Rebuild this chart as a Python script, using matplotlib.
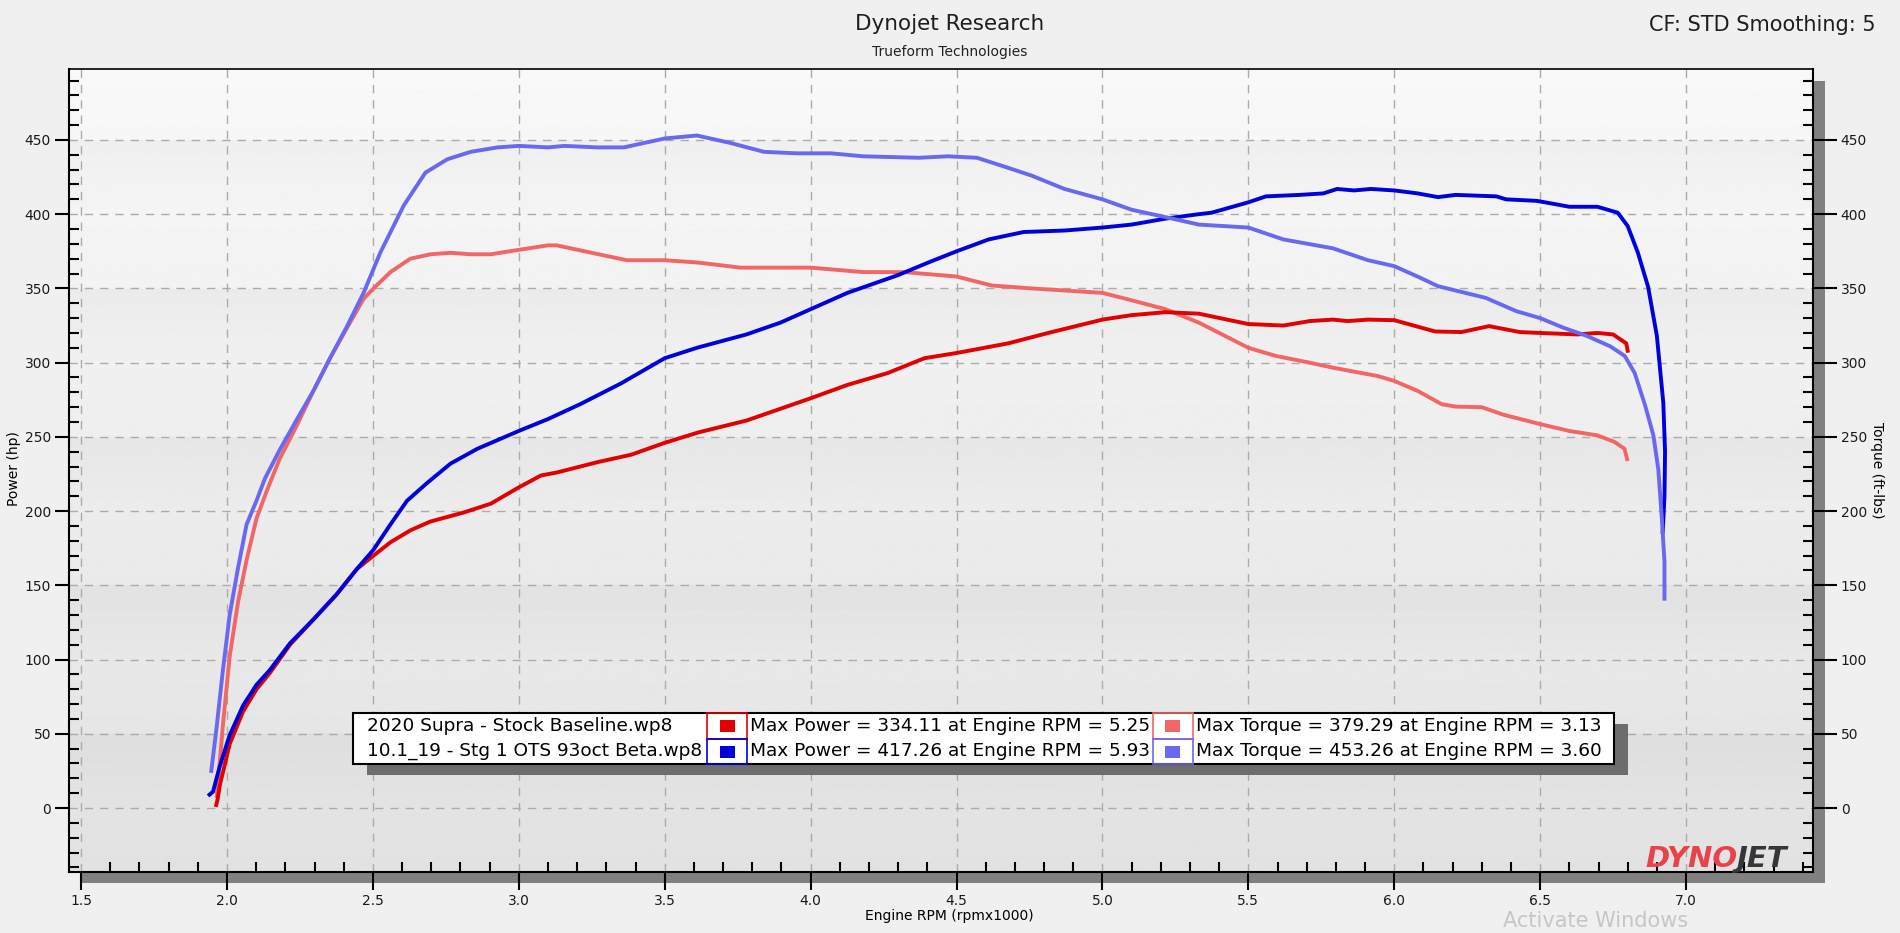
import matplotlib
matplotlib.use('Agg')
import matplotlib.pyplot as plt
from matplotlib.patches import Rectangle
from matplotlib.ticker import MultipleLocator, FormatStrFormatter
import numpy as np

# legend / summary values
run_names = ['2020 Supra - Stock Baseline.wp8', '10.1_19 - Stg 1 OTS 93oct Beta.wp8']
max_power = [334.11, 417.26]
max_power_rpm = [5.25, 5.93]
max_torque = [379.29, 453.26]
max_torque_rpm = [3.13, 3.60]

# stock baseline run (rpm x1000)
stock_power_rpm = [1.963, 1.968, 1.975, 2.009, 2.055, 2.101, 2.147, 2.216, 2.296, 2.376, 2.445,
                   2.502, 2.56, 2.628, 2.697, 2.81, 2.904, 3.0, 3.076, 3.13, 3.27, 3.385, 3.5,
                   3.615, 3.78, 4.0, 4.126, 4.264, 4.39, 4.5, 4.677, 4.814, 5.0, 5.1, 5.216,
                   5.33, 5.5, 5.62, 5.71, 5.79, 5.84, 5.91, 6.0, 6.14, 6.23, 6.325, 6.43, 6.5,
                   6.627, 6.696, 6.75, 6.795, 6.8]
stock_power_hp = [2, 6, 15, 43, 65, 80, 91, 110, 127, 144, 161,
                  170, 179, 187, 193, 199, 205, 216, 224, 226, 233, 238, 246,
                  253, 261, 276, 285, 293, 303, 306.5, 313, 320, 329, 332, 334,
                  333, 326, 325, 328, 329, 328, 329, 328.6, 321, 320.6, 324.6, 320.6, 320,
                  319, 320, 319, 313, 308]
stock_torque_rpm = [1.965, 1.986, 2.009, 2.038, 2.067, 2.101, 2.135, 2.18, 2.24, 2.296, 2.353,
                    2.41, 2.468, 2.502, 2.56, 2.628, 2.697, 2.766, 2.835, 2.904, 3.0, 3.1,
                    3.13, 3.25, 3.37, 3.5, 3.61, 3.76, 4.0, 4.18, 4.32, 4.5, 4.62, 4.757, 5.0,
                    5.1, 5.216, 5.33, 5.42, 5.5, 5.595, 5.71, 5.79, 5.943, 6.0, 6.08, 6.163,
                    6.21, 6.30, 6.373, 6.5, 6.6, 6.696, 6.754, 6.789, 6.798]
stock_torque_ftlb = [8, 56, 102, 139, 167, 195, 213, 235, 258, 281, 303,
                     323, 343, 350, 361, 370, 373, 374, 373, 373, 376, 379,
                     379, 374, 369, 369, 367.5, 364, 364, 361, 361, 358, 352, 350, 347,
                     342, 336, 327, 318, 310, 304.5, 300, 296.6, 291, 287.7, 281, 272,
                     270.4, 270, 265, 258.6, 254, 251, 246.7, 242, 235]

# stage 1 run
stg1_power_rpm = [1.94, 1.952, 1.975, 2.009, 2.055, 2.101, 2.147, 2.216, 2.296, 2.376, 2.445,
                  2.502, 2.56, 2.617, 2.686, 2.766, 2.858, 3.0, 3.1, 3.21, 3.35, 3.5, 3.61,
                  3.78, 3.897, 4.0, 4.126, 4.3, 4.41, 4.5, 4.61, 4.73, 4.87, 5.0, 5.1, 5.216,
                  5.33, 5.374, 5.5, 5.56, 5.676, 5.757, 5.804, 5.862, 5.92, 6.0, 6.08, 6.15,
                  6.21, 6.35, 6.383, 6.488, 6.545, 6.6, 6.696, 6.766, 6.8, 6.835, 6.87, 6.9,
                  6.922, 6.928, 6.926, 6.92]
stg1_power_hp = [9, 11, 28, 49, 69, 83, 93, 111, 127, 144, 161,
                 174, 191, 207, 219, 232, 242, 254, 262, 272, 286, 303, 310,
                 319, 327, 336, 347, 359, 368, 375, 383, 388, 389, 391, 393, 397,
                 400, 401, 408, 412, 413, 414, 417, 416, 417, 416, 414, 411.5,
                 413, 412, 410, 409, 407, 405, 405, 401, 392, 374, 351, 318,
                 273, 240, 210, 186]
stg1_torque_rpm = [1.946, 1.963, 1.986, 2.009, 2.038, 2.067, 2.101, 2.13, 2.18, 2.24, 2.296,
                   2.353, 2.41, 2.468, 2.525, 2.606, 2.68, 2.755, 2.835, 2.927, 3.0, 3.1,
                   3.156, 3.27, 3.36, 3.5, 3.61, 3.725, 3.84, 3.954, 4.07, 4.18, 4.37, 4.47,
                   4.57, 4.665, 4.757, 4.87, 5.0, 5.1, 5.24, 5.33, 5.5, 5.62, 5.79, 5.91, 6.0,
                   6.08, 6.15, 6.314, 6.418, 6.5, 6.58, 6.66, 6.74, 6.79, 6.824, 6.86, 6.888,
                   6.905, 6.917, 6.926, 6.926]
stg1_torque_ftlb = [25, 52, 93, 130, 162, 191, 207, 222, 241, 262, 281,
                    303, 324, 347, 374, 406, 428, 437, 442, 445, 446, 445,
                    446, 445, 445, 451, 453, 448, 442, 441, 441, 439, 438, 439,
                    438, 432, 426, 417, 410, 403, 397, 393, 391, 383, 377, 369, 365,
                    358, 351.5, 343.6, 334.7, 330, 323.5, 318, 311, 304.5, 293, 271, 251,
                    228, 195, 166, 141]

power_colors = ['#e20000', '#0000dc']
torque_colors = ['#f26666', '#6868f0']

W, H = 1900, 933
L, R, T, B = 69, 1813, 69, 872   # plot box in pixels
xlim = (1.4585, 7.435)
ylim = (-43.1, 497.8)


def frect(x0, y0, x1, y1, **kw):
    # rectangle given in figure pixels (origin top-left)
    fig.patches.append(Rectangle((x0 / W, 1 - y1 / H), (x1 - x0) / W, (y1 - y0) / H,
                                 transform=fig.transFigure, figure=fig, **kw))


def ftext(x, y, s, **kw):
    return fig.text(x / W, 1 - y / H, s, **kw)


fig = plt.figure(figsize=(W / 100, H / 100), dpi=100, facecolor='#f0f0f0')
ax = fig.add_axes([L / W, 1 - B / H, (R - L) / W, (B - T) / H])

# drop shadow of the plot area
frect(L + 12, T + 12, R + 12, B + 11, facecolor='#808080', edgecolor='none', zorder=-1)

# background shading
ys = np.linspace(ylim[1], ylim[0], 800)
shade = 0.975 - 0.09 * (ylim[1] - ys) / (ylim[1] - ylim[0])
for lo in range(0, 450, 100):
    m = (ys >= lo) & (ys < lo + 50)
    shade[m] -= 0.03 * (ys[m] - lo) / 50
ax.imshow(shade[:, None], extent=(xlim[0], xlim[1], ylim[0], ylim[1]), aspect='auto',
          cmap='gray', vmin=0, vmax=1, interpolation='bilinear', zorder=0)

lw = 2.8
ax.plot(stock_torque_rpm, stock_torque_ftlb, color=torque_colors[0], lw=lw, zorder=3)
ax.plot(stock_power_rpm, stock_power_hp, color=power_colors[0], lw=lw, zorder=4)
ax.plot(stg1_power_rpm, stg1_power_hp, color=power_colors[1], lw=lw, zorder=5)
ax.plot(stg1_torque_rpm, stg1_torque_ftlb, color=torque_colors[1], lw=lw, zorder=6)

ax.set_xlim(xlim)
ax.set_ylim(ylim)
ax.set_axisbelow(True)
ax.xaxis.set_major_locator(MultipleLocator(0.5))
ax.xaxis.set_minor_locator(MultipleLocator(0.1))
ax.xaxis.set_major_formatter(FormatStrFormatter('%.1f'))
ax.yaxis.set_major_locator(MultipleLocator(50))
ax.yaxis.set_minor_locator(MultipleLocator(10))
ax.grid(True, which='major', color='#ababab', linestyle=(0, (6, 5)), linewidth=1)

ax.tick_params(which='major', direction='out', length=10, width=1.5, pad=3,
               labelsize=10, labelcolor='#1a1a1a')
ax.tick_params(axis='x', which='major', length=13)
ax.tick_params(which='minor', direction='in', length=7, width=1.5)
for s in ['left', 'right', 'bottom']:
    ax.spines[s].set_linewidth(1.5)
ax.spines['top'].set_linewidth(1.2)

ax2 = ax.twinx()
ax2.set_ylim(ylim)
ax2.yaxis.set_major_locator(MultipleLocator(50))
ax2.yaxis.set_minor_locator(MultipleLocator(10))
ax2.tick_params(which='major', direction='out', length=17, width=1.5, pad=3,
                labelsize=10, labelcolor='#1a1a1a')
ax2.tick_params(which='minor', direction='in', length=7, width=1.5)
for s in ax2.spines.values():
    s.set_visible(False)

# titles and axis labels
ftext(950, 24, 'Dynojet Research', ha='center', va='center', fontsize=15.5, color='#1e1e1e')
ftext(950, 52, 'Trueform Technologies', ha='center', va='center', fontsize=10, color='#222222')
ftext(1876, 25, 'CF: STD Smoothing: 5', ha='right', va='center', fontsize=15, color='#1e1e1e')
ftext(14, 469, 'Power (hp)', rotation=90, ha='center', va='center', fontsize=10)
ftext(1877, 470, 'Torque (ft-lbs)', rotation=270, ha='center', va='center', fontsize=10)
ftext(949, 916, 'Engine RPM (rpmx1000)', ha='center', va='center', fontsize=10)

# legend table
frect(367, 724, 1628, 775, facecolor='#6d6d6d', edgecolor='none', zorder=1)
frect(353, 713, 1614, 764, facecolor='white', edgecolor='black', lw=1.5, zorder=2)
for i in range(2):
    top = 713 + 25.5 * i
    mid = top + 13
    ftext(367, mid, run_names[i], fontsize=13.3, va='center', zorder=5)
    frect(707, top, 747, top + 25.5, facecolor='none', edgecolor=power_colors[i], lw=1.2, zorder=4)
    frect(720, mid - 6, 735, mid + 6, facecolor=power_colors[i], edgecolor='none', zorder=4)
    ftext(750, mid, 'Max Power = %.2f at Engine RPM = %.2f' % (max_power[i], max_power_rpm[i]),
          fontsize=13.3, va='center', zorder=5)
    frect(1153, top, 1193, top + 25.5, facecolor='none', edgecolor=torque_colors[i], lw=1.2, zorder=4)
    frect(1165, mid - 6, 1180, mid + 6, facecolor=torque_colors[i], edgecolor='none', zorder=4)
    ftext(1196, mid, 'Max Torque = %.2f at Engine RPM = %.2f' % (max_torque[i], max_torque_rpm[i]),
          fontsize=13.3, va='center', zorder=5)

# logo: two colours, second part butted against the first
logo1 = ftext(1645, 867, 'DYNO', fontsize=21, fontweight='heavy', style='italic',
              color='#e8434a', va='baseline', zorder=6)
fig.canvas.draw()
bb = logo1.get_window_extent()
fig.text(bb.x1 / W, 1 - 867 / H, 'JET', fontsize=21, fontweight='heavy', style='italic',
         color='#35353a', va='baseline', zorder=6)

# watermark in the bottom corner
ftext(1503, 931, 'Activate Windows', fontsize=15, color='#c6c6c6', va='bottom', ha='left')

fig.savefig('out.png', dpi=100, facecolor=fig.get_facecolor())
